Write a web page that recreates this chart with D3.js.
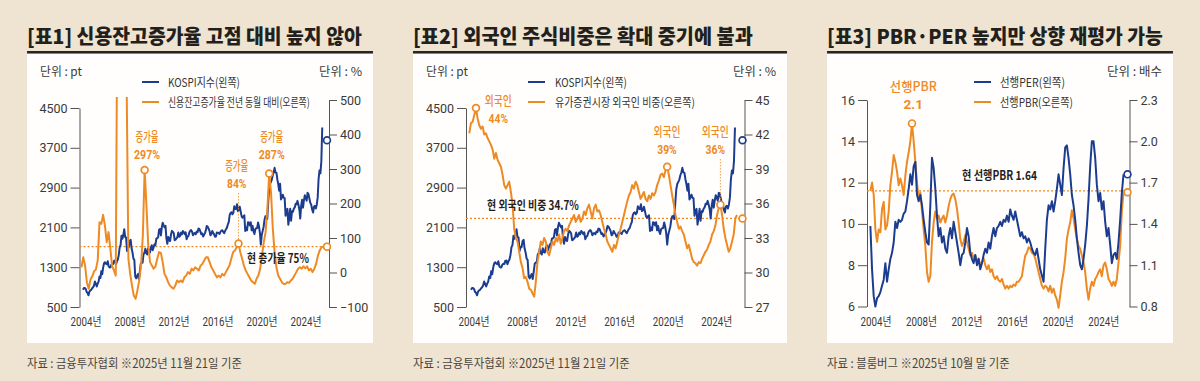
<!DOCTYPE html>
<html>
<head>
<meta charset="utf-8">
<script src="https://cdn.jsdelivr.net/npm/d3@7"></script>
<style>
  body { margin: 0; background: #efe4d1; }
  svg { display: block; }
</style>
</head>
<body>
<svg id="chart" width="1200" height="381"></svg>
<script>
// ---- text ----
const titles = ["[표1] 신용잔고증가율 고점 대비 높지 않아", "[표2] 외국인 주식비중은 확대 중기에 불과", "[표3] PBR·PER 높지만 상향 재평가 가능"];
const sources = ["자료 : 금융투자협회 ※2025년 11월 21일 기준", "자료 : 금융투자협회 ※2025년 11월 21일 기준", "자료 : 블룸버그 ※2025년 10월 말 기준"];
const legendLabels = [
  ["KOSPI지수(왼쪽)", "신용잔고증가율 전년 동월 대비(오른쪽)"],
  ["KOSPI지수(왼쪽)", "유가증권시장 외국인 비중(오른쪽)"],
  ["선행PER(왼쪽)", "선행PBR(오른쪽)"]
];

// ---- ticks ----
const yearTicks = [2004, 2008, 2012, 2016, 2020, 2024];
const kospiTicks = [500, 1300, 2100, 2900, 3700, 4500];
const creditTicks = [-100, 0, 100, 200, 300, 400, 500];
const foreignTicks = [27, 30, 33, 36, 39, 42, 45];
const perTicks = [6, 8, 10, 12, 14, 16];
const pbrTicks = [0.8, 1.1, 1.4, 1.7, 2.0, 2.3];

// ---- series ----
// KOSPI, month-end, Jan 2004 - Oct 2025
const kospiMonthly = [
  848, 880, 880, 863, 803, 785, 735, 810, 835, 845, 878, 896,
  932, 1011, 965, 912, 970, 1009, 1112, 1083, 1221, 1159, 1297, 1379,
  1400, 1371, 1360, 1420, 1318, 1295, 1297, 1352, 1371, 1364, 1432, 1434,
  1360, 1418, 1453, 1543, 1700, 1743, 1933, 1873, 1946, 2065, 1906, 1897,
  1625, 1712, 1704, 1825, 1852, 1674, 1595, 1474, 1449, 1113, 1076, 1124,
  1162, 1063, 1206, 1369, 1396, 1390, 1557, 1592, 1673, 1581, 1555, 1683,
  1602, 1594, 1693, 1741, 1641, 1698, 1759, 1742, 1873, 1882, 1905, 2051,
  2069, 1939, 2107, 2192, 2142, 2101, 2133, 1880, 1770, 1909, 1847, 1826,
  1956, 2030, 2014, 1982, 1843, 1854, 1881, 1906, 1996, 1913, 1933, 1997,
  1962, 2027, 2005, 1964, 2001, 1863, 1915, 1926, 1997, 2031, 2045, 2011,
  1941, 1980, 1986, 1962, 2017, 2002, 2076, 2068, 2020, 1964, 1981, 1916,
  1949, 1986, 2041, 2127, 2115, 2074, 2030, 1941, 1963, 2029, 1992, 1961,
  1912, 1917, 1996, 1994, 1983, 1970, 2016, 2035, 2044, 2008, 1983, 2026,
  2067, 2092, 2160, 2205, 2347, 2392, 2403, 2363, 2394, 2523, 2476, 2467,
  2566, 2427, 2446, 2515, 2423, 2326, 2295, 2323, 2343, 2030, 2097, 2041,
  2205, 2195, 2141, 2204, 2041, 2131, 2025, 1968, 2063, 2083, 2088, 2198,
  2119, 1987, 1755, 1947, 2030, 2108, 2249, 2326, 2328, 2267, 2591, 2873,
  2976, 3013, 3061, 3148, 3204, 3297, 3202, 3200, 3069, 2971, 2839, 2978,
  2663, 2699, 2758, 2695, 2686, 2333, 2452, 2472, 2155, 2293, 2473, 2236,
  2425, 2413, 2477, 2501, 2577, 2564, 2633, 2556, 2465, 2278, 2535, 2655,
  2497, 2642, 2747, 2692, 2637, 2798, 2770, 2674, 2593, 2556, 2456, 2399,
  2517, 2533, 2481, 2557, 2698, 3072, 3245, 3186, 3425, 4107
];
const kospiNow = 3853;

// credit balance growth y/y (%), roughly every two months, 2004 - Nov 2025
const creditGrowth = [
  15, 44, 20, -28, -47, -20, -11, 3, 9, 35,
  146, 141, 167, 136, 88, 117, 69, 18, 6, -9,
  900, 900, 800, 900, 800, 560, 40, -4, -38, -67,
  -76, -52, -23, 20, 107, 297, 194, 78, 30, 20,
  11, 18, 40, 59, 57, 30, -4, -14, -28, -38,
  -43, -47, -38, -23, -28, -23, -28, -14, -9, 1,
  -4, 11, 6, 15, 11, 6, 20, 25, 35, 44,
  44, 30, 15, 6, -4, -14, -9, -14, -4, -9,
  1, 11, 20, 40, 59, 64, 73, 84, 59, 40,
  20, 6, -4, -14, -23, -28, -33, -18, -9, 11,
  49, 88, 117, 185, 287, 233, 127, 59, 15, -9,
  -18, -28, -33, -33, -28, -30, -23, -18, -9, 1,
  11, 15, 11, 18, 12, 18, 6, 11, 1, 11,
  25, 49, 64, 73, 75
];
const creditNow = 75;

// foreign share of KOSPI market cap (%)
const foreignShare = [
  42.1, 43.0, 43.1, 43.7, 44.3, 43.4, 42.8, 42.5, 42.7, 42.0,
  42.1, 41.7, 41.4, 41.1, 40.7, 39.9, 40.4, 39.8, 39.5, 39.2,
  38.5, 37.6, 37.3, 37.6, 37.9, 37.0, 35.9, 33.8, 33.0, 32.7,
  31.8, 30.9, 30.4, 29.5, 29.6, 29.2, 28.6, 28.5, 28.2, 27.9,
  29.2, 30.9, 31.8, 32.7, 32.4, 33.0, 32.7, 31.8, 31.5, 32.1,
  32.7, 32.4, 33.0, 32.7, 33.3, 32.5, 33.0, 33.6, 33.8, 33.6,
  34.1, 34.4, 34.7, 35.0, 34.4, 34.7, 35.0, 34.4, 34.7, 35.3,
  35.0, 35.6, 35.9, 35.3, 34.7, 35.6, 35.9, 35.3, 35.4, 35.0,
  34.4, 33.8, 33.3, 32.7, 32.4, 32.1, 31.8, 32.4, 32.1, 32.7,
  33.3, 33.8, 34.4, 35.0, 35.6, 36.2, 36.7, 37.0, 37.6, 37.3,
  37.9, 37.6, 37.0, 36.4, 36.7, 37.0, 36.4, 36.2, 36.7, 36.4,
  36.9, 36.7, 37.0, 37.6, 38.0, 38.5, 38.6, 38.3, 38.9, 39.2,
  38.5, 37.6, 36.7, 35.9, 35.0, 34.4, 33.8, 34.0, 33.6, 33.3,
  32.7, 32.1, 32.4, 31.8, 31.2, 30.9, 30.8, 30.6, 30.9, 30.8,
  31.2, 31.5, 31.8, 32.0, 32.4, 32.7, 33.3, 33.6, 34.1, 35.0,
  35.6, 35.9, 35.0, 33.8, 33.0, 32.4, 31.8, 32.1, 32.7, 33.3,
  34.7, 35.0
];
const foreignNow = 34.7;

// 12m forward PER / PBR
const forwardPER = [
  9.9, 7.8, 6.5, 6.0, 6.4, 6.5, 6.7, 7.0, 7.3, 8.1,
  7.2, 7.8, 8.3, 8.6, 9.1, 10.1, 9.8, 10.2, 10.1, 10.2,
  10.5, 10.6, 11.1, 11.7, 12.4, 11.9, 12.8, 13.0, 11.4, 11.1,
  11.4, 10.9, 10.2, 9.6, 9.1, 9.0, 10.9, 13.2, 12.7, 11.7,
  10.4, 9.4, 9.8, 9.1, 9.4, 8.8, 8.6, 9.4, 9.8, 9.3,
  10.1, 9.6, 9.1, 8.6, 8.0, 8.5, 8.6, 9.1, 9.8, 9.4,
  8.6, 8.3, 8.1, 8.5, 8.0, 8.3, 7.8, 8.1, 8.5, 8.8,
  8.6, 9.1, 8.8, 9.4, 9.8, 9.4, 9.8, 9.9, 10.1, 9.9,
  10.2, 10.1, 10.4, 10.1, 10.7, 10.4, 10.2, 10.6, 10.2, 9.8,
  9.4, 9.6, 9.3, 9.4, 9.1, 9.3, 9.1, 8.8, 8.6, 8.5,
  8.8, 8.3, 7.8, 7.5, 7.2, 8.8, 10.2, 10.9, 10.7, 11.1,
  10.6, 11.1, 11.7, 12.4, 11.9, 11.4, 12.7, 13.7, 13.8, 13.2,
  12.4, 11.4, 10.9, 10.2, 9.3, 8.6, 8.0, 7.8, 8.3, 9.0,
  9.9, 11.2, 12.8, 14.0, 14.0, 13.2, 11.9, 11.1, 11.5, 10.7,
  11.1, 10.1, 9.4, 9.8, 9.0, 8.1, 8.5, 8.6, 8.3, 9.1,
  10.2, 11.5, 12.4
];
const forwardPBR = [
  1.64, 1.70, 1.61, 1.36, 1.27, 1.36, 1.34, 1.51, 1.56, 1.36,
  1.39, 1.49, 1.68, 1.78, 1.90, 1.85, 1.78, 1.68, 1.73, 1.68,
  1.61, 1.75, 1.85, 1.92, 2.00, 2.13, 2.00, 1.85, 1.70, 1.58,
  1.63, 1.49, 1.36, 1.24, 1.05, 0.98, 1.02, 1.27, 1.41, 1.49,
  1.44, 1.46, 1.41, 1.44, 1.46, 1.41, 1.46, 1.53, 1.58, 1.61,
  1.62, 1.58, 1.51, 1.41, 1.29, 1.24, 1.27, 1.32, 1.27, 1.22,
  1.17, 1.19, 1.15, 1.17, 1.12, 1.15, 1.10, 1.12, 1.15, 1.10,
  1.07, 1.10, 1.05, 1.07, 1.02, 1.00, 1.02, 0.99, 0.98, 1.00,
  0.96, 0.93, 0.95, 0.93, 0.95, 0.94, 0.96, 0.95, 0.98, 0.98,
  1.00, 1.02, 1.10, 1.17, 1.19, 1.23, 1.22, 1.19, 1.18, 1.15,
  1.10, 1.05, 1.00, 0.95, 0.93, 0.95, 0.94, 0.91, 0.95, 0.90,
  0.93, 0.88, 0.85, 0.79, 0.88, 0.98, 1.05, 1.15, 1.29, 1.36,
  1.41, 1.50, 1.44, 1.36, 1.29, 1.24, 1.22, 1.17, 1.12, 1.05,
  0.93, 0.85, 0.93, 0.98, 0.95, 1.00, 1.02, 1.05, 1.07, 1.02,
  1.10, 1.12, 1.07, 1.00, 0.98, 0.95, 0.98, 0.95, 1.00, 1.12,
  1.24, 1.49, 1.63
];
const perNow = 12.4;
const pbrNow = 1.63;
const pbrRef = 1.64;

// ---- annotations ----
const creditNotes = [
  { year: 2009.7, head: "증가율", label: "297%" },
  { year: 2018.2, head: "증가율", label: "84%", stem: true },
  { year: 2021.0, head: "증가율", label: "287%" }
];
const foreignNotes = [
  { year: 2004.4, head: "외국인", label: "44%" },
  { year: 2020.2, head: "외국인", label: "39%" },
  { year: 2024.5, head: "외국인", label: "36%", stem: true }
];
const pbrNotes = [
  { year: 2007.4, head: "선행PBR", label: "2.1" }
];

// ---- style ----
const BLUE = "#1c3d8f";
const ORANGE = "#ee8a24";
const KR = '"Noto Sans CJK KR", "Noto Sans", sans-serif';
const NUM = 'Roboto, "Noto Sans CJK KR", sans-serif';

const svg = d3.select("#chart");
svg.append("rect").attr("width", 1200).attr("height", 381).attr("fill", "#efe4d1");

// spread a regularly sampled series over its time span
function spread(values, t0, t1) {
  const step = (t1 - t0) / (values.length - 1);
  return values.map((v, i) => ({ t: t0 + i * step, v: v }));
}

// text, squeezed horizontally to a given width (the print font is condensed)
function txt(g, s, x, y, o) {
  o = o || {};
  const t = g.append("text")
    .attr("transform", "translate(" + x + "," + y + ")")
    .attr("font-family", o.family || KR)
    .attr("font-size", o.size || 12)
    .attr("font-weight", o.weight || 400)
    .attr("fill", o.fill || "#333")
    .attr("text-anchor", o.anchor || "start")
    .text(s);
  if (o.w) {
    const natural = t.node().getComputedTextLength();
    if (natural > 0) t.attr("transform", "translate(" + x + "," + y + ") scale(" + (o.w / natural) + ",1)");
  }
  return t;
}

// highest point of a series close to a given year
function peakNear(series, year) {
  const near = series.filter(d => Math.abs(d.t - year) <= 0.4);
  return near.reduce((a, b) => (b.v > a.v ? b : a));
}

const kospi = spread(kospiMonthly, 2004, 2004 + (kospiMonthly.length - 1) / 12);

const panels = [
  {
    x0: 27, x1: 373, titleW: 335, sourceW: 215,
    xr: [83, 325], axL: 79.5, axR: 329,
    yL: d3.scaleLinear().domain([500, 4500]).range([307, 108]),
    yR: d3.scaleLinear().domain([-100, 500]).range([307, 100]),
    ticksL: kospiTicks, ticksR: creditTicks, fmtR: d3.format("d"),
    left: kospi, right: spread(creditGrowth, 2003.86, 2025.85),
    leftNow: kospiNow, rightNow: creditNow, ref: creditNow,
    rightOnTop: true,
    units: ["단위 : pt", "단위 : %"], unitW: [42, 43],
    legX: 142, legTextX: 168, legW: [72, 142],
    notes: creditNotes, headW: 23,
    noteText: [[147, 141], [236.7, 170], [271.7, 141]],
    refText: "현 증가율 75%", refTextPos: [247, 263], refTextW: 62
  },
  {
    x0: 413, x1: 787, titleW: 340, sourceW: 217,
    xr: [471, 738], axL: 466, axR: 744.5,
    yL: d3.scaleLinear().domain([500, 4500]).range([307, 108]),
    yR: d3.scaleLinear().domain([27, 45]).range([307, 100]),
    ticksL: kospiTicks, ticksR: foreignTicks, fmtR: d3.format("d"),
    left: kospi, right: spread(foreignShare, 2003.86, 2025.92),
    leftNow: kospiNow, rightNow: foreignNow, ref: foreignNow,
    rightOnTop: true,
    units: ["단위 : pt", "단위 : %"], unitW: [42, 43],
    legX: 528, legTextX: 555, legW: [72, 140],
    notes: foreignNotes, headW: 27,
    noteText: [[498.3, 104.5], [667, 136], [715.3, 136]],
    refText: "현 외국인 비중 34.7%", refTextPos: [487, 209.5], refTextW: 92
  },
  {
    x0: 827, x1: 1173, titleW: 336, sourceW: 183,
    xr: [873, 1123.5], axL: 867, axR: 1129.5,
    yL: d3.scaleLinear().domain([6, 16]).range([306.5, 100]),
    yR: d3.scaleLinear().domain([0.8, 2.3]).range([306.5, 100]),
    ticksL: perTicks, ticksR: pbrTicks, fmtR: d3.format(".1f"),
    left: spread(forwardPER, 2003.77, 2026.0), right: spread(forwardPBR, 2003.77, 2026.0),
    leftNow: perNow, rightNow: pbrNow, ref: pbrRef,
    rightOnTop: false,
    units: [null, "단위 : 배수"], unitW: [0, 55],
    legX: 974, legTextX: 1000, legW: [65, 73],
    notes: pbrNotes, headW: 47,
    noteText: [[913.3, 91]],
    refText: "현 선행PBR 1.64", refTextPos: [962, 179.5], refTextW: 75
  }
];

panels.forEach(function (p, k) {
  const g = svg.append("g");
  const x = d3.scaleLinear().domain([2004, 2026]).range(p.xr);

  // card, rule, title, source
  g.append("rect").attr("x", p.x0).attr("y", 54).attr("width", p.x1 - p.x0).attr("height", 289).attr("fill", "#fffefc");
  g.append("rect").attr("x", p.x0).attr("y", 51).attr("width", p.x1 - p.x0).attr("height", 2.5).attr("fill", "#2a2522");
  txt(g, titles[k], p.x0, 44, { size: 20, weight: 900, fill: "#231f1c", w: p.titleW });
  txt(g, sources[k], p.x0, 368, { size: 12.5, fill: "#4a4541", w: p.sourceW });

  // units
  if (p.units[0]) txt(g, p.units[0], p.x0 + 13, 76, { size: 12, fill: "#3a3a3a", w: p.unitW[0] });
  txt(g, p.units[1], p.x1 - 11, 76, { size: 12, fill: "#3a3a3a", anchor: "end", w: p.unitW[1] });

  // legend
  [BLUE, ORANGE].forEach(function (c, i) {
    const ly = 82 + i * 20;
    g.append("line").attr("x1", p.legX).attr("x2", p.legX + 17).attr("y1", ly).attr("y2", ly)
      .attr("stroke", c).attr("stroke-width", 2);
    txt(g, legendLabels[k][i], p.legTextX, ly + 4.5, { size: 12, fill: "#333", w: p.legW[i] });
  });

  // axes
  const axL = g.append("g").attr("transform", "translate(" + p.axL + ",0)")
    .call(d3.axisLeft(p.yL).tickValues(p.ticksL).tickSize(9).tickSizeOuter(0).tickPadding(3).tickFormat(d3.format("d")));
  const axR = g.append("g").attr("transform", "translate(" + p.axR + ",0)")
    .call(d3.axisRight(p.yR).tickValues(p.ticksR).tickSize(8).tickSizeOuter(0).tickPadding(3).tickFormat(p.fmtR));
  [axL, axR].forEach(function (a) {
    a.select(".domain").attr("stroke", "#555").attr("stroke-width", 1);
    a.selectAll(".tick line").attr("stroke", "#555");
    a.selectAll(".tick text").attr("font-family", NUM).attr("font-size", 12.5).attr("fill", "#3a3a3a");
  });

  // year labels
  yearTicks.forEach(function (yr) {
    txt(g, yr + "년", x(yr) + 3, 326, { family: NUM, size: 12, fill: "#3a3a3a", anchor: "middle", w: 31 });
  });

  // reference line of the current value
  g.append("line").attr("x1", p.axL).attr("x2", p.axR)
    .attr("y1", p.yR(p.ref)).attr("y2", p.yR(p.ref))
    .attr("stroke", ORANGE).attr("stroke-width", 1.2).attr("stroke-dasharray", "2,2");

  // lines, clipped to the plot
  const clipId = "clip" + k;
  g.append("clipPath").attr("id", clipId).append("rect")
    .attr("x", p.axL).attr("y", 97).attr("width", p.axR - p.axL).attr("height", 215);
  const lineL = d3.line().x(d => x(d.t)).y(d => p.yL(d.v));
  const lineR = d3.line().x(d => x(d.t)).y(d => p.yR(d.v));
  const plot = g.append("g").attr("clip-path", "url(#" + clipId + ")");
  const drawL = () => plot.append("path").datum(p.left).attr("d", lineL)
    .attr("fill", "none").attr("stroke", BLUE).attr("stroke-width", 2).attr("stroke-linejoin", "round");
  const drawR = () => plot.append("path").datum(p.right).attr("d", lineR)
    .attr("fill", "none").attr("stroke", ORANGE).attr("stroke-width", 2).attr("stroke-linejoin", "round");
  if (p.rightOnTop) { drawL(); drawR(); } else { drawR(); drawL(); }

  // annotations
  p.notes.forEach(function (n, i) {
    const pk = peakNear(p.right, n.year);
    const cx = x(pk.t), cy = p.yR(pk.v);
    const tx = p.noteText[i][0], ty = p.noteText[i][1];
    if (n.stem) {
      g.append("line").attr("x1", cx).attr("x2", cx).attr("y1", ty + 23).attr("y2", cy - 4)
        .attr("stroke", ORANGE).attr("stroke-width", 0.8).attr("stroke-dasharray", "1.5,1.5");
    }
    g.append("circle").attr("cx", cx).attr("cy", cy).attr("r", 3.4)
      .attr("fill", "#fff").attr("stroke", ORANGE).attr("stroke-width", 1.7);
    txt(g, n.head, tx, ty, { size: 13, weight: 500, fill: ORANGE, anchor: "middle", w: p.headW });
    txt(g, n.label, tx, ty + 18, { family: NUM, size: 12.5, weight: 700, fill: ORANGE, anchor: "middle", w: n.label.length * 6.5 });
  });

  // current-value markers at the right edge
  g.append("circle").attr("cx", p.axR - 2).attr("cy", p.yL(p.leftNow)).attr("r", 3.4)
    .attr("fill", "#fff").attr("stroke", BLUE).attr("stroke-width", 1.7);
  g.append("circle").attr("cx", p.axR - 2).attr("cy", p.yR(p.rightNow)).attr("r", 3.4)
    .attr("fill", "#fff").attr("stroke", ORANGE).attr("stroke-width", 1.7);

  txt(g, p.refText, p.refTextPos[0], p.refTextPos[1], { size: 12.5, weight: 700, fill: "#1f1f1f", w: p.refTextW });
});
</script>
</body>
</html>
